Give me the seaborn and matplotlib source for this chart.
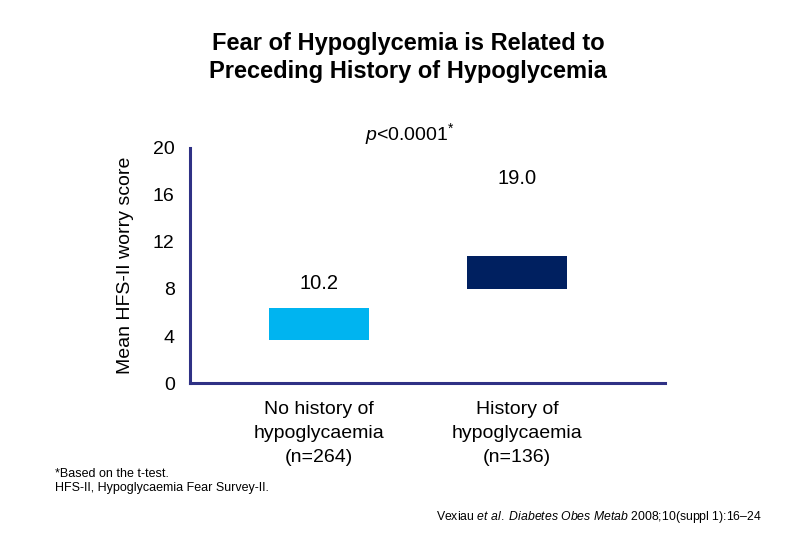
import numpy as np
import pandas as pd
import seaborn as sns
import matplotlib.pyplot as plt

# data
groups = ['No history of\nhypoglycaemia\n(n=264)', 'History of\nhypoglycaemia\n(n=136)']
mean_score = [10.2, 19.0]          # printed labels
box_bottom = [3.7, 8.0]            # where the boxes actually sit on the slide
box_top = [6.4, 10.8]
label_y = [8.5, 17.4]              # where the value labels sit
bar_colors = ['#00b4f0', '#002060']
yticks = [0, 4, 8, 12, 16, 20]

sns.set_style('white')
plt.rcParams['font.family'] = ['Liberation Sans', 'DejaVu Sans']
plt.rcParams['mathtext.fontset'] = 'custom'
plt.rcParams['mathtext.rm'] = 'Liberation Sans'
plt.rcParams['mathtext.it'] = 'Liberation Sans:italic'
for k in ['text.color', 'axes.labelcolor', 'xtick.color', 'ytick.color']:
    plt.rcParams[k] = 'black'

df = pd.DataFrame({'group': groups,
                   'height': np.array(box_top) - np.array(box_bottom),
                   'bottom': box_bottom})

fig = plt.figure(figsize=(8.1, 5.4), dpi=100)
ax = fig.add_axes([0.2346, 0.2907, 0.5864, 0.4353])

sns.barplot(data=df, x='group', y='height', hue='group', palette=bar_colors,
            width=0.505, legend=False, ax=ax, saturation=1)
# shift the boxes up to where they float on the slide
for patch, b in zip(ax.patches, df['bottom']):
    patch.set_y(b)
    patch.set_linewidth(0)

for i, (v, ly) in enumerate(zip(mean_score, label_y)):
    ax.text(i, ly, f'{v:.1f}', ha='center', va='center', fontsize=14.5)

ax.set_xlim(-0.652, 1.747)
ax.set_ylim(0, 20)
ax.set_yticks(yticks)
ax.set_yticklabels([str(t) for t in yticks], fontsize=14)
ax.tick_params(axis='y', length=0, pad=11)
ax.tick_params(axis='x', length=0, pad=13, labelsize=14)
for lbl in ax.get_xticklabels():
    lbl.set_linespacing(1.52)
ax.set_xlabel('')
ax.set_ylabel('Mean HFS-II worry score', fontsize=14, labelpad=14)

for s in ['top', 'right']:
    ax.spines[s].set_visible(False)
for s in ['left', 'bottom']:
    ax.spines[s].set_color('#2f3185')
    ax.spines[s].set_linewidth(2.2)

ax.text(0.46, 21.2, r'$\it{p}$<0.0001$^{*}$', ha='center', va='center', fontsize=14)

fig.text(0.504, 0.8935, 'Fear of Hypoglycemia is Related to\nPreceding History of Hypoglycemia',
         ha='center', va='center', fontsize=17, fontweight='bold', linespacing=1.23)

fig.text(0.068, 0.109, '*Based on the t-test.\nHFS-II, Hypoglycaemia Fear Survey-II.',
         ha='left', va='center', fontsize=9, linespacing=1.3)
fig.text(0.94, 0.043, r'Vexiau $\it{et\ al.}$ $\it{Diabetes\ Obes\ Metab}$ 2008;10(suppl 1):16–24',
         ha='right', va='center', fontsize=8.8)

fig.savefig('out.png', dpi=100)
